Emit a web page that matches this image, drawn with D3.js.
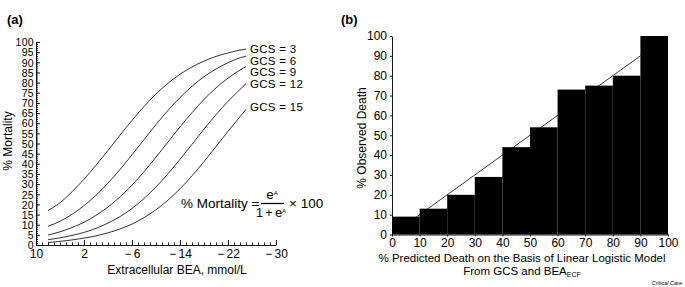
<!DOCTYPE html>
<html>
<head>
<meta charset="utf-8">
<script src="https://cdn.jsdelivr.net/npm/d3@7"></script>
<style>
  body { margin: 0; background: #fff; }
  svg { display: block; font-family: "Liberation Sans", Arial, Helvetica, sans-serif; }
  .axis path, .axis line { stroke: #000; stroke-width: 0.9; }
  .axis text { fill: #000; }
</style>
</head>
<body>
<svg width="685" height="287"></svg>
<script>
const svg = d3.select("svg");

// Panel (a): mortality curves per GCS
const beaValues = [8, 6, 4, 2, 0, -2, -4, -6, -8, -10, -12, -14, -16, -18, -20, -22, -24, -25];
const gcsLevels = [3, 6, 9, 12, 15];
const mortalityGcs3 = [17.0, 20.8, 26.2, 32.4, 39.3, 46.6, 54.1, 61.4, 68.2, 74.4, 79.7, 84.1, 87.7, 90.6, 92.9, 94.6, 96.0, 96.5];
const mortalityGcs6 = [9.2, 11.7, 15.1, 19.4, 24.5, 30.5, 37.2, 44.4, 51.9, 59.3, 66.3, 72.6, 78.2, 82.9, 86.7, 89.8, 92.2, 93.0];
const mortalityGcs9 = [4.9, 6.5, 8.6, 11.2, 14.6, 18.7, 23.7, 29.5, 36.1, 43.3, 50.7, 58.2, 65.2, 71.7, 77.4, 82.2, 86.2, 87.9];
const mortalityGcs12 = [2.6, 3.5, 4.7, 6.2, 8.2, 10.8, 14.0, 18.0, 22.9, 28.6, 35.1, 42.2, 49.6, 57.1, 64.2, 70.8, 76.6, 79.5];
const mortalityGcs15 = [1.2, 1.8, 2.5, 3.4, 4.5, 6.0, 7.9, 10.3, 13.5, 17.4, 22.1, 27.7, 34.1, 41.1, 48.5, 56.0, 63.2, 66.8];
const labelY = [49, 60.5, 72, 84, 107];
const beaTicks = [10, 2, -6, -14, -22, -30];

// Panel (b): observed death per decile of predicted death
const predictedBins = [0, 10, 20, 30, 40, 50, 60, 70, 80, 90];
const observedDeath = [9, 13, 20, 29, 44, 54, 73, 75, 80, 100];
const percentTicks = [0, 10, 20, 30, 40, 50, 60, 70, 80, 90, 100];

const series = [mortalityGcs3, mortalityGcs6, mortalityGcs9, mortalityGcs12, mortalityGcs15];

//----- panel (a)
var xA = d3.scaleLinear().domain([10, -30]).range([36, 276]);
var yA = d3.scaleLinear().domain([0, 100]).range([245, 42]);

var gA = svg.append("g");

gA.append("text")
    .attr("x", 7).attr("y", 24)
    .attr("font-size", 13).attr("font-weight", "bold")
    .text("(a)");

// minor ticks
gA.append("g")
    .attr("class", "axis")
    .attr("transform", "translate(36,0)")
    .call(d3.axisLeft(yA).tickValues(d3.range(0, 101, 1)).tickSize(-2).tickFormat(""))
    .call(g => g.select(".domain").remove());
gA.append("g")
    .attr("class", "axis")
    .attr("transform", "translate(0,245)")
    .call(d3.axisBottom(xA).tickValues(d3.range(10, -30.5, -1)).tickSize(-2.5).tickFormat(""))
    .call(g => g.select(".domain").remove());

gA.append("g")
    .attr("class", "axis")
    .attr("transform", "translate(36,0)")
    .call(d3.axisLeft(yA).tickValues(d3.range(0, 101, 5)).tickSize(-4).tickSizeOuter(0).tickPadding(2))
    .call(g => g.selectAll("text").attr("font-size", 10.5).attr("letter-spacing", 0.3).attr("dy", "0.36em"));

gA.append("g")
    .attr("class", "axis")
    .attr("transform", "translate(0,245)")
    .call(d3.axisBottom(xA).tickValues(beaTicks).tickSize(-5).tickSizeOuter(0).tickPadding(4)
        .tickFormat(d => d < 0 ? "\u2212\u2009" + (-d) : d))
    .call(g => g.selectAll("text").attr("font-size", 12));

gA.append("text")
    .attr("transform", "translate(12,141)rotate(-90)")
    .attr("text-anchor", "middle")
    .attr("font-size", 12)
    .text("% Mortality");

gA.append("text")
    .attr("x", 177).attr("y", 274)
    .attr("text-anchor", "middle")
    .attr("font-size", 12)
    .text("Extracellular BEA, mmol/L");

var line = d3.line()
    .x(function (d) { return xA(d[0]); })
    .y(function (d) { return yA(d[1]); })
    .curve(d3.curveMonotoneX);

series.forEach(function (vals, i) {
    var pts = beaValues.map(function (b, j) { return [b, vals[j]]; });
    gA.append("path")
        .attr("d", line(pts))
        .attr("fill", "none")
        .attr("stroke", "#000")
        .attr("stroke-width", 0.8);
    gA.append("text")
        .attr("x", 250).attr("y", labelY[i])
        .attr("dy", "0.35em")
        .attr("font-size", 11.5)
        .attr("letter-spacing", 0.3)
        .text("GCS = " + gcsLevels[i]);
});

// formula
var fm = gA.append("g").attr("font-size", 13.5);
fm.append("text").attr("x", 181).attr("y", 208).text("% Mortality =");
fm.append("text").attr("x", 272).attr("y", 199).attr("text-anchor", "middle").text("e")
    .append("tspan").attr("font-size", 6).attr("dy", -4).text("A");
fm.append("line").attr("x1", 261).attr("x2", 284).attr("y1", 203.5).attr("y2", 203.5)
    .attr("stroke", "#000").attr("stroke-width", 1.3);
fm.append("text").attr("x", 271).attr("y", 217).attr("text-anchor", "middle")
    .attr("font-size", 12.5).text("1\u2009+\u2009e")
    .append("tspan").attr("font-size", 6).attr("dy", -4).text("A");
fm.append("text").attr("x", 289).attr("y", 208).text("\u00d7 100");

//----- panel (b)
var xB = d3.scaleLinear().domain([0, 100]).range([392, 668]);
var yB = d3.scaleLinear().domain([0, 100]).range([234.5, 36]);

var gB = svg.append("g");

gB.append("text")
    .attr("x", 341).attr("y", 24)
    .attr("font-size", 13).attr("font-weight", "bold")
    .text("(b)");

// identity line under the bars
gB.append("line")
    .attr("x1", xB(0)).attr("y1", yB(0))
    .attr("x2", xB(100)).attr("y2", yB(100))
    .attr("stroke", "#000").attr("stroke-width", 0.8);

gB.selectAll(".bar")
    .data(predictedBins)
    .enter().append("rect")
    .attr("class", "bar")
    .attr("x", function (d) { return xB(d); })
    .attr("width", function (d) { return xB(d + 10) - xB(d); })
    .attr("y", function (d, i) { return yB(observedDeath[i]); })
    .attr("height", function (d, i) { return yB(0) - yB(observedDeath[i]); })
    .attr("fill", "#000");

gB.append("g")
    .attr("class", "axis")
    .attr("transform", "translate(392,0)")
    .call(d3.axisLeft(yB).tickValues(percentTicks).tickSize(2).tickSizeOuter(0).tickPadding(3))
    .call(g => g.selectAll("text").attr("font-size", 12));

gB.append("g")
    .attr("class", "axis")
    .attr("transform", "translate(0,234.5)")
    .call(d3.axisBottom(xB).tickValues(percentTicks).tickSize(2).tickSizeOuter(0).tickPadding(2))
    .call(g => g.selectAll("text").attr("font-size", 12));

gB.append("text")
    .attr("transform", "translate(366,138)rotate(-90)")
    .attr("text-anchor", "middle")
    .attr("font-size", 12)
    .text("% Observed Death");

gB.append("text")
    .attr("x", 522).attr("y", 262)
    .attr("text-anchor", "middle")
    .attr("font-size", 11.5)
    .text("% Predicted Death on the Basis of Linear Logistic Model");

var t2 = gB.append("text")
    .attr("x", 522).attr("y", 275)
    .attr("text-anchor", "middle")
    .attr("font-size", 11.5)
    .text("From GCS and BEA");
t2.append("tspan").attr("font-size", 7).attr("dy", 2).text("ECF");

gB.append("text")
    .attr("x", 682).attr("y", 285)
    .attr("text-anchor", "end")
    .attr("font-size", 5.5)
    .attr("font-style", "italic")
    .text("Critical Care");
</script>
</body>
</html>
